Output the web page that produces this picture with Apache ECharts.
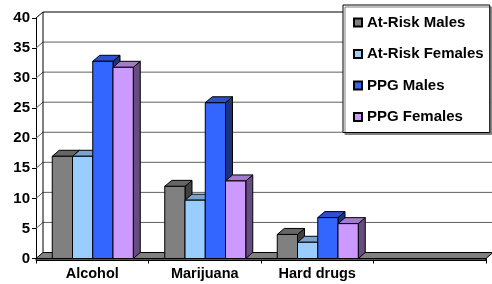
<!DOCTYPE html>
<html>
<head>
<meta charset="utf-8">
<script src="https://cdn.jsdelivr.net/npm/echarts@6/dist/echarts.min.js"></script>
<style>
html,body{margin:0;padding:0;background:#fff;}
#chart{width:492px;height:284px;}
</style>
</head>
<body>
<div id="chart"></div>
<script>
// ---- data ----
var categories = ['Alcohol', 'Marijuana', 'Hard drugs', ''];
var seriesNames = ['At-Risk Males', 'At-Risk Females', 'PPG Males', 'PPG Females'];
var atRiskMales = [17, 12, 4, null];
var atRiskFemales = [17, 9.7, 2.7, null];
var ppgMales = [32.8, 25.9, 6.8, null];
var ppgFemales = [31.8, 12.9, 5.8, null];
var yTicks = [0, 5, 10, 15, 20, 25, 30, 35, 40];

// ---- styles ----
var FONT = '"Liberation Sans", Arial, sans-serif';
var DX = 7, DY = 6;
var palettes = [
  {front: '#808080', top: '#666666', side: '#404040'},
  {front: '#99CCFF', top: '#7AA3CC', side: '#4D6680'},
  {front: '#3366FF', top: '#2952CC', side: '#1A3380'},
  {front: '#CC99FF', top: '#A37ACC', side: '#664D80'}
];
var allValues = [atRiskMales, atRiskFemales, ppgMales, ppgFemales];

function barRenderer(si) {
  return function (params, api) {
    var v = api.value(1);
    if (v == null || isNaN(v)) return;
    var j = api.value(0);
    var top = api.coord([j, v]);
    var base = api.coord([j, 0]);
    var band = api.size([1, 0])[0];
    var bw = band * 0.18;
    var start = top[0] - 2 * bw + 0.5;
    var x0 = start + si * bw;
    var x1 = x0 + bw;
    var yt = top[1], yb = base[1];
    var p = palettes[si];
    var ls = {stroke: '#000', lineWidth: 1};
    return {
      type: 'group',
      children: [
        {type: 'polygon', shape: {points: [[x1, yt], [x1 + DX, yt - DY], [x1 + DX, yb - DY], [x1, yb]]},
         style: Object.assign({fill: p.side}, ls)},
        {type: 'polygon', shape: {points: [[x0, yt], [x0 + DX, yt - DY], [x1 + DX, yt - DY], [x1, yt]]},
         style: Object.assign({fill: p.top}, ls)},
        {type: 'rect', shape: {x: x0, y: yt, width: bw, height: yb - yt},
         style: Object.assign({fill: p.front}, ls)}
      ]
    };
  };
}

function wallRenderer(params, api) {
  var v = api.value(0);
  var cs = params.coordSys;
  var x = cs.x, w = cs.width;
  var y = api.coord([0, v])[1];
  var children = [];
  if (v === 0) {
    var ytop = api.coord([0, yTicks[yTicks.length - 1]])[1];
    children.push({type: 'polygon', z2: 0,
      shape: {points: [[x, y], [x + w, y], [x + w + DX, y - DY], [x + DX, y - DY]]},
      style: {fill: '#808080', stroke: '#000', lineWidth: 1}});
    children.push({type: 'rect', z2: 0, shape: {x: x, y: y, width: w, height: 2},
      style: {fill: '#555', stroke: '#000', lineWidth: 1}});
    children.push({type: 'line', z2: 1,
      shape: {x1: x + DX, y1: y - DY, x2: x + DX, y2: ytop - DY},
      style: {stroke: '#000', lineWidth: 1}});
  } else {
    var col = (v === yTicks[yTicks.length - 1]) ? '#000' : '#606060';
    children.push({type: 'line', shape: {x1: x + DX, y1: y - DY, x2: x + w + DX + 10, y2: y - DY},
      style: {stroke: col, lineWidth: 1}});
    children.push({type: 'line', shape: {x1: x, y1: y, x2: x + DX, y2: y - DY},
      style: {stroke: col, lineWidth: 1}});
  }
  return {type: 'group', children: children};
}

var series = [{
  type: 'custom',
  name: '_walls',
  renderItem: wallRenderer,
  data: yTicks.map(function (t) { return [t]; }),
  encode: {y: 0},
  z: 1,
  silent: true
}];
for (var i = 0; i < 4; i++) {
  series.push({
    type: 'custom',
    name: seriesNames[i],
    renderItem: barRenderer(i),
    data: allValues[i].map(function (v, j) { return [j, v]; }),
    encode: {x: 0, y: 1},
    itemStyle: {color: palettes[i].front, borderColor: '#000', borderWidth: 1},
    z: 2 + i,
    silent: true
  });
}

var chart = echarts.init(document.getElementById('chart'), null, {renderer: 'canvas'});
chart.setOption({
  animation: false,
  backgroundColor: '#fff',
  grid: {left: 36, right: 6, top: 18, bottom: 25.5, containLabel: false},
  xAxis: {
    type: 'category',
    data: categories,
    boundaryGap: true,
    axisLine: {show: true, lineStyle: {color: '#000', width: 1}},
    axisTick: {show: true, length: 5, lineStyle: {color: '#000'}},
    axisLabel: {color: '#000', fontFamily: FONT, fontWeight: 'bold', fontSize: 14.5, margin: 8},
    splitLine: {show: false}
  },
  yAxis: {
    type: 'value',
    min: 0, max: 40, interval: 5,
    axisLine: {show: true, lineStyle: {color: '#000', width: 1}},
    axisTick: {show: true, length: 4, lineStyle: {color: '#000'}},
    axisLabel: {color: '#000', fontFamily: FONT, fontWeight: 'bold', fontSize: 15, margin: 6},
    splitLine: {show: false}
  },
  legend: {
    data: seriesNames,
    orient: 'vertical',
    left: 343, top: 5,
    icon: 'rect',
    itemWidth: 8, itemHeight: 8,
    itemGap: 16.5,
    padding: [10, 6, 8, 10],
    backgroundColor: '#fff',
    borderColor: '#000',
    borderWidth: 1,
    borderRadius: 0,
    shadowColor: '#808080',
    shadowOffsetX: 2,
    shadowOffsetY: 2,
    shadowBlur: 0,
    selectedMode: false,
    textStyle: {color: '#000', fontFamily: FONT, fontWeight: 'bold', fontSize: 15}
  },
  series: series
});
</script>
</body>
</html>
